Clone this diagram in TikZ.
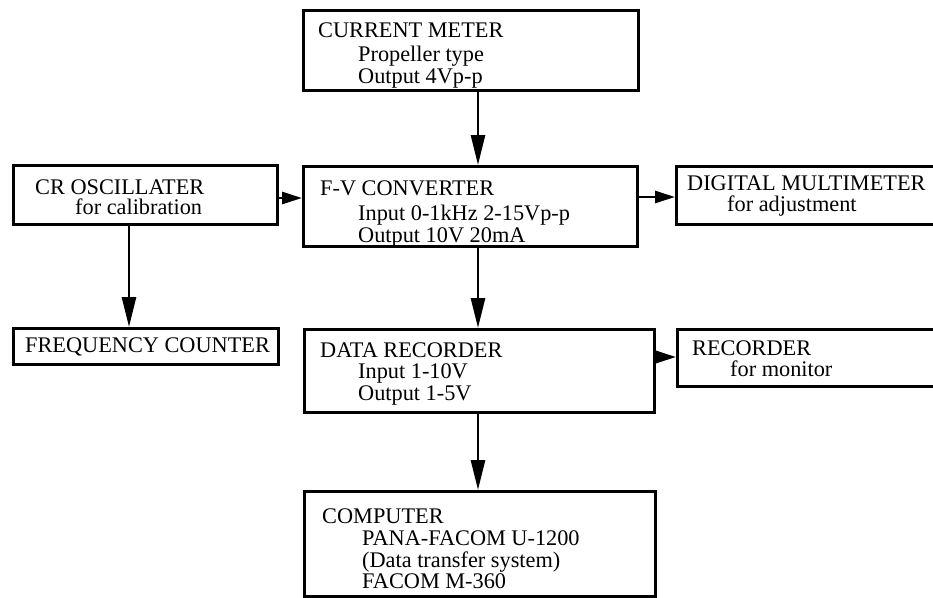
\documentclass[tikz,border=0pt]{standalone}
\usepackage{fontspec}
\setmainfont{Liberation Serif}
\usetikzlibrary{arrows.meta}
\begin{document}
\begin{tikzpicture}[x=1pt,y=-1pt,
  box/.style={draw=black,line width=2.8pt,rectangle,inner sep=0pt,anchor=north west},
  txt/.style={anchor=north west,inner sep=0pt,align=left,font=\fontsize{22.3}{21.3}\selectfont},
  arr/.style={line width=2.8pt,-{Triangle[length=30pt,width=14pt]}},
  sarr/.style={line width=2.8pt,-{Triangle[length=20pt,width=12pt]}}]
\useasboundingbox (0,0) rectangle (933,597);
\clip (0,0) rectangle (933,597);
% boxes
\node[box,minimum width=335pt,minimum height=80pt] (cm) at (302,9) {};
\node[box,minimum width=264pt,minimum height=59pt] (cro) at (12,164) {};
\node[box,minimum width=334pt,minimum height=80pt] (fv) at (302,165) {};
\node[box,minimum width=280pt,minimum height=58pt] (dm) at (675,165) {};
\node[box,minimum width=265pt,minimum height=36pt] (fc) at (12,327) {};
\node[box,minimum width=350pt,minimum height=83pt] (dr) at (303,328) {};
\node[box,minimum width=280pt,minimum height=57pt] (rec) at (676,328) {};
\node[box,minimum width=351pt,minimum height=105pt] (cp) at (303,490) {};
% texts
\node[txt] (cmT) at (318,22.5) {CURRENT METER\\[3pt]\hspace*{40pt}Propeller type\\\hspace*{40pt}Output 4Vp-p};
\node[txt] (croT) at (35,179.5) {CR OSCILLATER\\[-1pt]\hspace*{40pt}for calibration};
\node[txt] (fvT) at (320,180.5) {F-V CONVERTER\\[4pt]\hspace*{38pt}Input 0-1kHz 2-15Vp-p\\\hspace*{38pt}Output 10V 20mA};
\node[txt] (dmT) at (687,175.5) {DIGITAL MULTIMETER\\\hspace*{40pt}for adjustment};
\node[txt] (fcT) at (25,338) {FREQUENCY COUNTER};
\node[txt] (drT) at (320,342.5) {DATA RECORDER\\\hspace*{38pt}Input 1-10V\\\hspace*{38pt}Output 1-5V};
\node[txt] (recT) at (692,340.5) {RECORDER\\\hspace*{38pt}for monitor};
\node[txt] (cpT) at (322,508.5) {COMPUTER\\[0.5pt]\hspace*{40pt}PANA-FACOM U-1200\\[0.5pt]\hspace*{40pt}(Data transfer system)\\\hspace*{40pt}FACOM M-360};
% connector guides
\coordinate (xm) at (478,0);
\coordinate (xl) at (129,0);
\coordinate (y1) at (0,198);
\coordinate (y2) at (0,197);
\coordinate (y3) at (0,357);
% connectors
\draw[arr] (cm.south -| xm) -- (fv.north -| xm);
\draw[sarr] (cro.east |- y1) -- (fv.west |- y1);
\draw[sarr] (fv.east |- y2) -- (dm.west |- y2);
\draw[arr] (cro.south -| xl) -- (fc.north -| xl);
\draw[arr] (fv.south -| xm) -- (dr.north -| xm);
\draw[sarr] (dr.east |- y3) -- (rec.west |- y3);
\draw[arr] (dr.south -| xm) -- (cp.north -| xm);
\end{tikzpicture}
\end{document}
